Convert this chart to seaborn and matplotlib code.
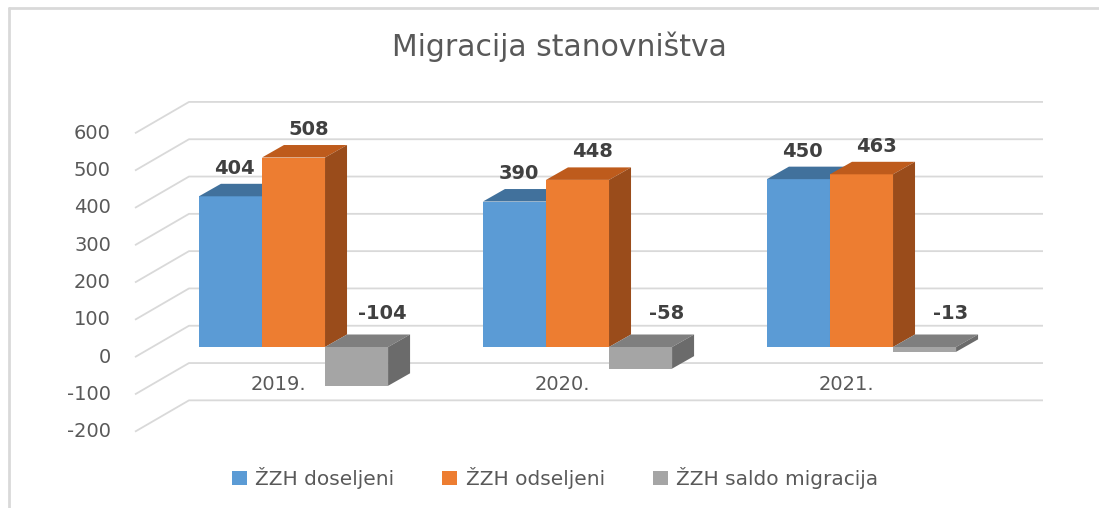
import pandas as pd
import matplotlib.pyplot as plt
import seaborn as sns
from matplotlib.patches import Patch, Polygon
from matplotlib.lines import Line2D

# ── Data ───────────────────────────────────────────────────────
years = ["2019.", "2020.", "2021."]
series = ["ŽZH doseljeni", "ŽZH odseljeni", "ŽZH saldo migracija"]
doseljeni = [404, 390, 450]
odseljeni = [508, 448, 463]
saldo = [-104, -58, -13]
y_ticks = [-200, -100, 0, 100, 200, 300, 400, 500, 600]

# ── Style ──────────────────────────────────────────────────────
sns.set_style("white")
plt.rcParams["font.family"] = ["DejaVu Sans"]

FRONT = ["#5B9BD5", "#ED7D31", "#A5A5A5"]
TOP = ["#41719C", "#BE5B1C", "#7F7F7F"]
SIDE = ["#3E6A93", "#9A4C1B", "#6B6B6B"]
GRID = "#D9D9D9"
TEXT = "#595959"
LABEL = "#404040"

# pixel layout of the fake 3D chart (Excel-like)
PX0, PXU = 293.5, 284.0      # x pixel of first group centre, px per category
ZERO_PY, PYU = 347.0, 0.373  # y pixel of zero on bar plane, px per unit
W, H = 1099, 508


def dx(px):
    return (px - PX0) / PXU


def vy(py):
    return (ZERO_PY - py) / PYU


BAR_DX = 22 / PXU     # bar depth, horizontal
BAR_DY = 12.5 / PYU   # bar depth, vertical
FRONT_OFF, BACK_OFF = -27, 57

df = pd.DataFrame({
    "godina": years * 3,
    "serija": [s for s in series for _ in years],
    "broj": doseljeni + odseljeni + saldo,
})

fig = plt.figure(figsize=(W / 100, H / 100), dpi=100)
ax = fig.add_axes([0, 0, 1, 1])

sns.barplot(data=df, x="godina", y="broj", hue="serija", hue_order=series,
            palette=FRONT, saturation=1, width=0.666, gap=0, legend=False,
            linewidth=0, edgecolor="none", ax=ax)

# 3D faces on top of the seaborn bars
bars = list(ax.patches)
for i, p in enumerate(bars):
    k = i // len(years)
    p.set_zorder(3 + k)
    x0, w, h = p.get_x(), p.get_width(), p.get_height()
    top, bot = max(h, 0), min(h, 0)
    ax.add_patch(Polygon([(x0, top), (x0 + w, top), (x0 + w + BAR_DX, top + BAR_DY),
                          (x0 + BAR_DX, top + BAR_DY)],
                         closed=True, facecolor=TOP[k], edgecolor="none", zorder=3 + k))
    ax.add_patch(Polygon([(x0 + w, bot), (x0 + w, top), (x0 + w + BAR_DX, top + BAR_DY),
                          (x0 + w + BAR_DX, bot + BAR_DY)],
                         closed=True, facecolor=SIDE[k], edgecolor="none", zorder=3 + k))

# data labels
label_shift = [4 / PXU, 15 / PXU, 26 / PXU]
for i, p in enumerate(bars):
    k = i // len(years)
    v = int(round(p.get_height()))
    yl = v + 75 if v > 0 else 91
    ax.text(p.get_x() + p.get_width() / 2 + label_shift[k], yl, f"{v}",
            ha="center", va="center", fontsize=14, fontweight="bold",
            color=LABEL, zorder=10)

# gridlines: front-left diagonal, then back wall
for g in y_ticks:
    ax.plot([dx(135), dx(189), dx(1043)],
            [g + FRONT_OFF, g + BACK_OFF, g + BACK_OFF],
            color=GRID, linewidth=1.3, zorder=0.5, solid_capstyle="butt")
    ax.text(dx(111), g + FRONT_OFF, f"{g}", ha="right", va="center",
            fontsize=14, color=TEXT)

# category labels
for i, yr in enumerate(years):
    ax.text(i - 15.5 / PXU, vy(384), yr, ha="center", va="center",
            fontsize=14, color=TEXT)

ax.set_xlim(dx(0), dx(W))
ax.set_ylim(vy(H), vy(0))
ax.set_axis_off()

fig.text(559 / W, 1 - 47 / H, "Migracija stanovništva", ha="center", va="center",
         fontsize=21.5, color=TEXT)

handles = [Patch(facecolor=c, edgecolor="none", label=s) for c, s in zip(FRONT, series)]
fig.legend(handles=handles, loc="center", bbox_to_anchor=(555 / W, 1 - 478 / H),
           ncol=3, frameon=False, fontsize=14.5, labelcolor=TEXT,
           handlelength=0.75, handleheight=0.75, handletextpad=0.4, columnspacing=2.4)

# chart frame (left and top edges visible in the screenshot)
fig.add_artist(Line2D([9 / W, 9 / W], [0, 1 - 8 / H], color=GRID, linewidth=2))
fig.add_artist(Line2D([9 / W, 1], [1 - 8 / H, 1 - 8 / H], color=GRID, linewidth=2))

fig.savefig("out.png", dpi=100)
